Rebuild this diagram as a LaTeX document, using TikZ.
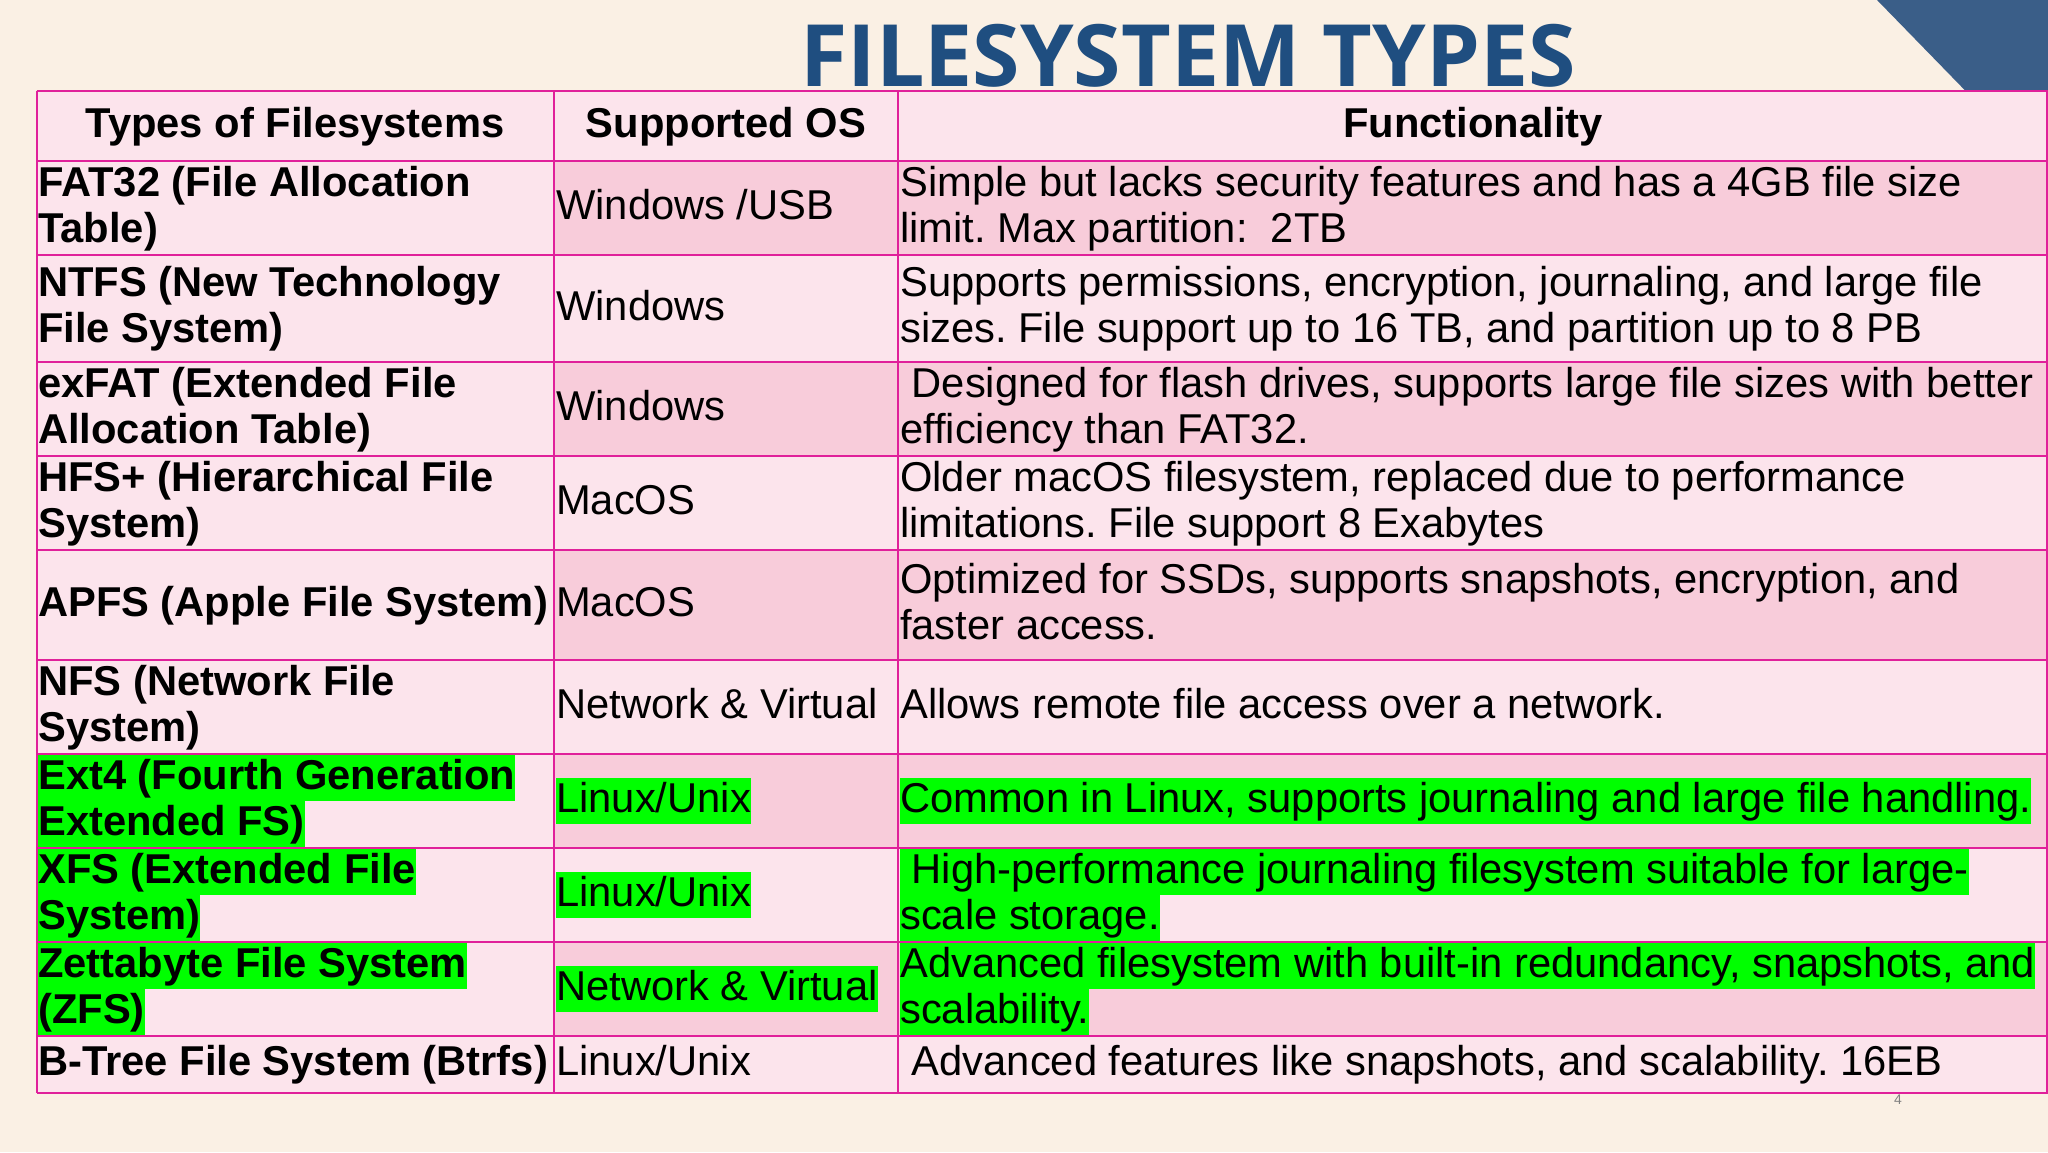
\documentclass[tikz,border=0pt]{standalone}
\usepackage{fontspec}
\setmainfont{Liberation Sans}
\newfontfamily\titlefont{Open Sans}
\definecolor{bg}{HTML}{FAF0E4}
\definecolor{lp}{HTML}{FCE4EC}
\definecolor{dp}{HTML}{F8CCDA}
\definecolor{bd}{HTML}{E0209A}
\definecolor{hl}{HTML}{00FF00}
\definecolor{ttl}{HTML}{1F4E80}
\definecolor{tri}{HTML}{3A5E88}
\frenchspacing
\newcommand\cl[4]{\node[anchor=base west,inner sep=0pt,text height=34pt,text depth=12pt,fill=#4] at (#1,#2) {#3};}
\begin{document}
\begin{tikzpicture}[x=1pt,y=-1pt,font=\fontsize{41.7}{46}\selectfont]
\useasboundingbox (0,0) rectangle (2048,1152);
\fill[bg] (0,0) rectangle (2048,1152);
\fill[tri] (1877,0) -- (2048,0) -- (2048,91.4) -- (1966,91.4) -- cycle;
\node[anchor=base,text=ttl,font=\titlefont\bfseries\fontsize{86}{90}\selectfont,inner sep=0pt] (title) at (1188,86) {FILESYSTEM TYPES};
\fill[lp] (36.6,91.4) rectangle (2048,1093.1);
\foreach \a/\b in {160.6/254.7,361.8/455.8,549.8/659.5,753.6/847.6,941.6/1035.7}
  \fill[dp] (554,\a) rectangle (2048,\b);
\node[font=\bfseries\fontsize{41.7}{46}\selectfont] (h1) at (295,127) {Types of Filesystems};
\node[font=\bfseries\fontsize{41.7}{46}\selectfont] (h2) at (726,127) {Supported OS};
\node[font=\bfseries\fontsize{41.7}{46}\selectfont] (h3) at (1473,127) {Functionality};
\newcommand\ca{38} \newcommand\cb{556} \newcommand\cc{900}
% r1
\cl{\ca}{196}{\bfseries FAT32 (File Allocation}{none}
\cl{\ca}{242}{\bfseries Table)}{none}
\cl{\cb}{219}{Windows /USB}{none}
\cl{\cc}{196}{Simple but lacks security features and has a 4GB file size}{none}
\cl{\cc}{242}{limit. Max partition:\ \ 2TB}{none}
% r2
\cl{\ca}{296}{\bfseries NTFS (New Technology}{none}
\cl{\ca}{342}{\bfseries File System)}{none}
\cl{\cb}{320}{Windows}{none}
\cl{\cc}{296}{Supports permissions, encryption, journaling, and large file}{none}
\cl{\cc}{342}{sizes. File support up to 16 TB, and partition up to 8 PB}{none}
% r3
\cl{\ca}{397}{\bfseries exFAT (Extended File}{none}
\cl{\ca}{443}{\bfseries Allocation Table)}{none}
\cl{\cb}{420}{Windows}{none}
\cl{\cc}{397}{\ Designed for flash drives, supports large file sizes with better}{none}
\cl{\cc}{443}{efficiency than FAT32.}{none}
% r4
\cl{\ca}{491}{\bfseries HFS+ (Hierarchical File}{none}
\cl{\ca}{537}{\bfseries System)}{none}
\cl{\cb}{514}{MacOS}{none}
\cl{\cc}{491}{Older macOS filesystem, replaced due to performance}{none}
\cl{\cc}{537}{limitations. File support 8 Exabytes}{none}
% r5
\cl{\ca}{616}{\bfseries APFS (Apple File System)}{none}
\cl{\cb}{616}{MacOS}{none}
\cl{\cc}{593}{Optimized for SSDs, supports snapshots, encryption, and}{none}
\cl{\cc}{639}{faster access.}{none}
% r6
\cl{\ca}{695}{\bfseries NFS (Network File}{none}
\cl{\ca}{741}{\bfseries System)}{none}
\cl{\cb}{718}{Network \& Virtual}{none}
\cl{\cc}{718}{Allows remote file access over a network.}{none}
% r7
\cl{\ca}{789}{\bfseries Ext4 (Fourth Generation}{hl}
\cl{\ca}{835}{\bfseries Extended FS)}{hl}
\cl{\cb}{812}{Linux/Unix\ }{hl}
\cl{\cc}{812}{Common in Linux, supports journaling and large file handling.}{hl}
% r8
\cl{\ca}{883}{\bfseries XFS (Extended File}{hl}
\cl{\ca}{929}{\bfseries System)}{hl}
\cl{\cb}{906}{Linux/Unix\ }{hl}
\cl{\cc}{883}{\ High-performance journaling filesystem suitable for large-}{hl}
\cl{\cc}{929}{scale storage.}{hl}
% r9
\cl{\ca}{977}{\bfseries Zettabyte File System}{hl}
\cl{\ca}{1023}{\bfseries (ZFS)}{hl}
\cl{\cb}{1000}{Network \& Virtual\ }{hl}
\cl{\cc}{977}{Advanced filesystem with built-in redundancy, snapshots, and}{hl}
\cl{\cc}{1023}{scalability.}{hl}
% r10
\cl{\ca}{1075}{\bfseries B-Tree File System (Btrfs)}{none}
\cl{\cb}{1075}{Linux/Unix}{none}
\cl{\cc}{1075}{\ Advanced features like snapshots, and scalability. 16EB}{none}
% grid
\foreach \y in {91.4,160.6,254.7,361.8,455.8,549.8,659.5,753.6,847.6,941.6,1035.7,1093.1}
  \draw[bd,line width=2pt] (36.6,\y) -- (2048,\y);
\foreach \x in {36.6,554,898,2047}
  \draw[bd,line width=2pt] (\x,91.4) -- (\x,1093.1);
\node[text=gray,font=\fontsize{14}{16}\selectfont] (pg) at (1898,1100) {4};
\end{tikzpicture}
\end{document}
